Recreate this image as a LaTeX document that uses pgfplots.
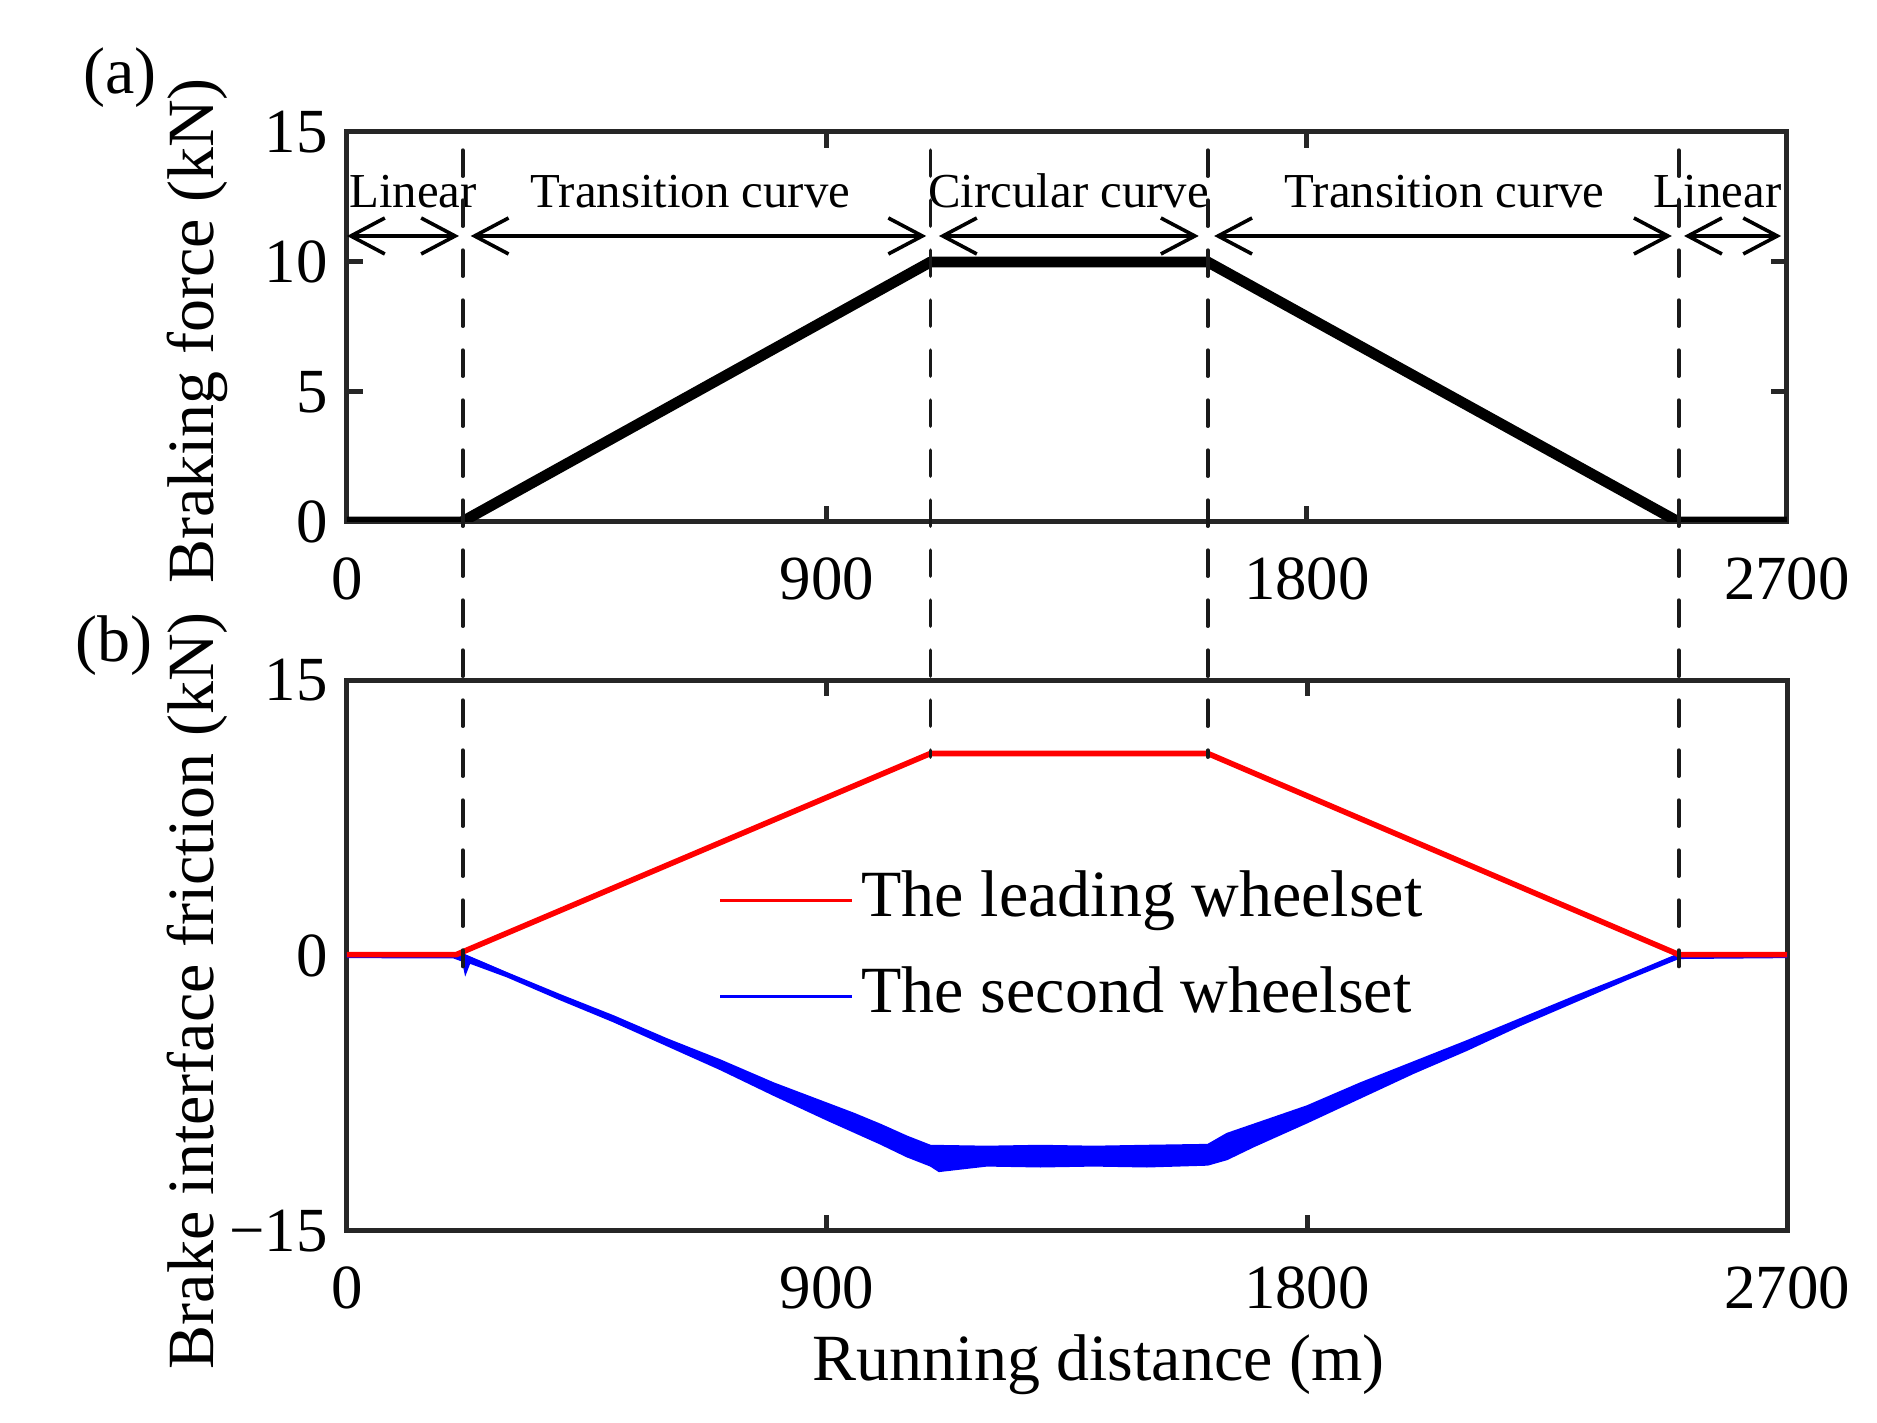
\documentclass[border=0pt]{standalone}
\usepackage{fontspec}
\setmainfont{Liberation Serif}
\usepackage{pgfplots}
\pgfplotsset{compat=1.18}
\usetikzlibrary{arrows.meta}
\tikzset{
  dimarr/.style={{Straight Barb[length=8.5pt,width=9pt,line width=0.9pt]}-{Straight Barb[length=8.5pt,width=9pt,line width=0.9pt]}, line width=0.9pt},
}

\begin{document}
\begin{tikzpicture}
\path[use as bounding box] (-86.75pt,-48pt) rectangle (382.5pt,307.75pt);
\pgfplotsset{
  common/.style={
    width=360pt, scale only axis,
    xmin=0, xmax=2700,
    xtick={0,900,1800,2700}, xticklabels={0,900,1800,2700},
    tick align=inside, major tick length=4pt,
    axis line style={line width=1.25pt, black!85},
    every tick/.style={line width=1.25pt, black!85},
    tick label style={font=\fontsize{15.7}{18}\selectfont},
    label style={font=\fontsize{16.5}{19}\selectfont},
    xticklabel style={yshift=-5.5pt},
    yticklabel style={xshift=-1.3pt},
  },
}
% ---------------- (a) ----------------
\begin{axis}[common,
  at={(0,177.25pt)}, anchor=south west,
  height=97.5pt,
  ymin=0, ymax=15, ytick={0,5,10,15}, yticklabels={0,5,10,15},
  ylabel={Braking force (kN)},
  ylabel style={at={(axis description cs:-0.104,0.49)}, anchor=center},
]
\addplot[black, line width=2.7pt, line join=round] coordinates {
  (0,0) (215,0) (1094,10) (1614,10) (2497,0) (2700,0)};
\draw[dimarr] (axis cs:0,11) -- (axis cs:210,11);
\draw[dimarr] (axis cs:232,11) -- (axis cs:1086,11);
\draw[dimarr] (axis cs:1110,11) -- (axis cs:1597,11);
\draw[dimarr] (axis cs:1626,11) -- (axis cs:2484,11);
\draw[dimarr] (axis cs:2507,11) -- (axis cs:2689,11);
\node[anchor=base, inner sep=0pt, font=\fontsize{12.2}{14}\selectfont] at (axis cs:124,12.08) {Linear};
\node[anchor=base, inner sep=0pt, font=\fontsize{12.2}{14}\selectfont] at (axis cs:644,12.08) {Transition curve};
\node[anchor=base, inner sep=0pt, font=\fontsize{12.2}{14}\selectfont] at (axis cs:1353,12.08) {Circular curve};
\node[anchor=base, inner sep=0pt, font=\fontsize{12.2}{14}\selectfont] at (axis cs:2058,12.08) {Transition curve};
\node[anchor=base, inner sep=0pt, font=\fontsize{12.2}{14}\selectfont] at (axis cs:2570,12.08) {Linear};
\coordinate (t1) at (axis cs:217,14.3);
\coordinate (t2) at (axis cs:1094,14.3);
\coordinate (t3) at (axis cs:1614,14.3);
\coordinate (t4) at (axis cs:2497,14.3);
\end{axis}
% ---------------- (b) ----------------
\begin{axis}[common,
  at={(0,0)}, anchor=south west,
  height=137.75pt,
  ymin=-15, ymax=15, ytick={-15,0,15}, yticklabels={−15,0,15},
  xlabel={Running distance (m)},
  xlabel style={at={(axis description cs:0.522,-0.243)}, anchor=center},
  ylabel={Brake interface friction (kN)},
  ylabel style={at={(axis description cs:-0.104,0.436)}, anchor=center},
  legend style={draw=none, fill=none, at={(axis cs:695,0.4)}, anchor=west,
    inner xsep=0pt, inner ysep=0pt, row sep=0pt,
    font=\fontsize{16.5}{19}\selectfont,
    nodes={text height=12pt, text depth=4pt, inner ysep=4pt}},
  legend cell align=left,
  legend image code/.code={\draw[#1, line width=0.8pt] (0pt,0pt) -- (33pt,0pt);},
]
\addplot[fill=blue, draw=blue, line width=0.4pt, forget plot] coordinates {
  (0,0.1) (200,0.1) (217,0.08) (300,-0.95) (400,-2.15) (500,-3.3) (600,-4.55)
  (700,-5.7) (800,-6.95) (900,-8.05) (950,-8.6) (1000,-9.2) (1050,-9.85)
  (1094,-10.35) (1200,-10.4) (1300,-10.35) (1400,-10.4) (1500,-10.35) (1614,-10.3)
  (1650,-9.7) (1700,-9.2) (1800,-8.2) (1900,-6.95) (2000,-5.8) (2100,-4.65)
  (2200,-3.45) (2300,-2.25) (2400,-1.1) (2497,0.08) (2700,0.1)
  (2700,-0.1) (2497,-0.15) (2400,-1.3) (2300,-2.55) (2200,-3.8) (2100,-5.15)
  (2000,-6.4) (1900,-7.75) (1800,-9.1) (1700,-10.4) (1650,-11.1) (1614,-11.4)
  (1500,-11.5) (1400,-11.45) (1300,-11.5) (1200,-11.45) (1110,-11.75) (1094,-11.45)
  (1050,-10.95) (1000,-10.25) (950,-9.6) (900,-8.95) (800,-7.6) (700,-6.2)
  (600,-4.9) (500,-3.6) (400,-2.4) (300,-1.15) (230,-0.4) (222,-1.0) (217,-0.3)
  (200,-0.12) (0,-0.1)} -- cycle;
\addplot[blue, line width=0.9pt, forget plot] coordinates {
  (0,0) (217,0) (1094,-10.9) (1614,-10.9) (2497,0) (2700,0)};
\addplot[red, line width=1.4pt, line join=round] coordinates {
  (0,0.05) (205,0.05) (1094,11.0) (1614,11.0) (2497,0.05) (2700,0.05)};
\addlegendentry{The leading wheelset}
\addlegendimage{blue}
\addlegendentry{The second wheelset}
\coordinate (b1) at (axis cs:217,-0.6);
\coordinate (b2) at (axis cs:1094,10.8);
\coordinate (b3) at (axis cs:1614,10.8);
\coordinate (b4) at (axis cs:2497,-0.6);
\end{axis}
\foreach \i in {1,2,3,4}{
  \draw[black!90, line width=0.9pt, line cap=round, dash pattern=on 6.5pt off 6pt] (t\i) -- (b\i);
}
\node[font=\fontsize{16.5}{19}\selectfont] at (-56.75pt,288.25pt) {(a)};
\node[font=\fontsize{16.5}{19}\selectfont] at (-58.25pt,146.25pt) {(b)};
\end{tikzpicture}
\end{document}
